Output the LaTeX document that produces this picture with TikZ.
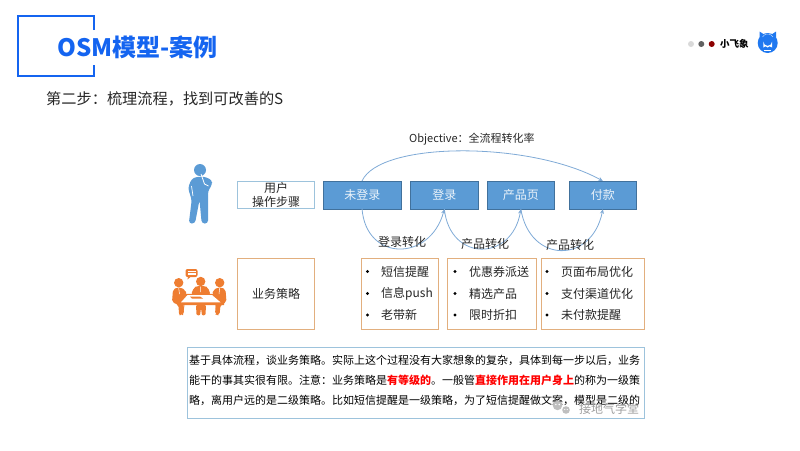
\documentclass[tikz,border=0pt]{standalone}
\usepackage{fontspec}
\setmainfont{Noto Sans CJK SC}
\usetikzlibrary{arrows.meta}
\definecolor{titleblue}{HTML}{1464F0}
\definecolor{stepblue}{HTML}{5B9BD5}
\definecolor{stepedge}{HTML}{41719C}
\definecolor{lightedge}{HTML}{9DC3DC}
\definecolor{peach}{HTML}{E2AF7E}
\definecolor{iconorange}{HTML}{EE7D31}
\definecolor{ink}{HTML}{262626}
\definecolor{curve}{HTML}{7FAAD6}
\definecolor{logoblue}{HTML}{1F78F0}
\tikzset{
  stepbox/.style={draw=stepedge,fill=stepblue,line width=.7pt,text=white!88!stepblue,font=\fontsize{12}{14}\selectfont,inner sep=0pt,anchor=north west},
  outlinebox/.style={fill=white,inner sep=0pt,anchor=north west,text=ink,font=\fontsize{12}{14.5}\selectfont,align=center},
  peachbox/.style={outlinebox,draw=peach,line width=1pt},
  flowarc/.style={draw=curve,line width=.8pt,-{Stealth[length=4.5pt,width=4pt]}},
  arclabel/.style={text=ink,font=\fontsize{12}{14}\selectfont,inner sep=0pt},
  bul/.style={circle,fill=black,inner sep=0pt,minimum size=3.2pt},
  item/.style={anchor=west,inner sep=0pt,text=ink,font=\fontsize{12}{14}\selectfont},
  para/.style={anchor=west,inner sep=0pt,text=black,font=\fontsize{11}{13}\selectfont},
}
\begin{document}
\begin{tikzpicture}[x=1pt,y=-1pt]
\useasboundingbox (0,0) rectangle (800,450);
% title frame
\draw[titleblue,line width=2pt] (94,30) -- (94,16) -- (18,16) -- (18,75.5) -- (94,75.5) -- (94,65);
\node[anchor=west,inner sep=0pt,text=titleblue,font=\fontsize{24}{28}\bfseries\selectfont] (title) at (57,47) {OSM模型-案例};
\node[anchor=west,inner sep=0pt,text=ink,font=\fontsize{15.2}{18}\selectfont] (sub) at (46,99) {第二步：梳理流程，找到可改善的S};
% brand
\fill[black!15] (691,44) circle (3);
\fill[black!62] (701.3,44) circle (3);
\fill[red!55!black] (711.7,44) circle (3);
\node[anchor=west,inner sep=0pt,font=\fontsize{9.5}{11}\bfseries\selectfont] (brand) at (720,43.5) {小飞象};
\fill[logoblue] (767.7,43) circle (10);
\fill[logoblue] (759.5,38) -- (759.5,31.5) -- (764,34.5) -- cycle;
\fill[logoblue] (776,38) -- (776,31.5) -- (771.5,34.5) -- cycle;
\draw[white!70!logoblue,line width=.5pt] (762.5,37) arc (210:330:6);
\fill[white] (763.3,47.5) -- (763.3,41.5) arc (180:0:4.4) -- (772.1,47.5) -- (769.5,46.3) -- (767.7,47.5) -- (765.5,46.3) -- cycle;
\fill[logoblue] (766,41.5) circle (.8) (769.4,41.5) circle (.8);
\draw[white,line width=.7pt] (764,50) -- (771,50);
% person
\begin{scope}[stepblue]
\fill (200,170) circle (6);
\fill[rounded corners=3pt] (191.5,179) -- (196,177) -- (204,176.5) -- (212,180) -- (212,185) -- (208,191) -- (208,223.5) -- (201.7,223.5) -- (199.5,200) -- (195,223.5) -- (188.8,223.5) -- (191.7,200) -- (188,188) -- cycle;
\draw[white,line width=.8pt] (201,174) -- (204.5,184) -- (208.5,186);
\draw[white,line width=.7pt] (191.5,186) -- (193,196);
\end{scope}
% meeting icon
\begin{scope}[iconorange]
\fill[rounded corners=2pt] (185.5,269) rectangle (197.5,277);
\fill (188,276.5) -- (187.5,279.5) -- (191,276.5) -- cycle;
\draw[white,line width=.5pt] (187.5,271.3) -- (195.5,271.3) (187.5,273) -- (195.5,273) (187.5,274.7) -- (195.5,274.7);
\fill (178.7,282.7) circle (4.7) (200.7,281.5) circle (4.7) (219.7,282.7) circle (4.7);
% left sitter
\fill[rounded corners=2pt] (172,302) -- (173,289.5) -- (177,287.5) -- (181,287.5) -- (185,290) -- (187,294) -- (183,301) -- (184,314) -- (181,315) -- (179,315) -- (178.5,305) -- cycle;
% right sitter
\fill[rounded corners=2pt] (226.5,302) -- (225.5,289.5) -- (222,287.5) -- (217.5,287.5) -- (213.5,290) -- (212,294) -- (216,301) -- (215,314) -- (217,315) -- (219.5,315) -- (220.5,305) -- cycle;
% middle sitter
\fill[rounded corners=2pt] (191,294.5) -- (194,287.5) -- (197,286) -- (205,286) -- (208,287.5) -- (210.5,294.5) -- cycle;
\draw[white,line width=.5pt] (178.7,288) -- (179.5,294) (219.7,288) -- (219,294) (200.7,286.5) -- (200.7,292);
% table
\fill (186,293.8) -- (213.5,293.8) -- (224,303) -- (224,305) -- (177.5,305) -- (177.5,303) -- cycle;
\fill[white] (187.5,295) -- (212,295) -- (220.5,302.3) -- (181,302.3) -- cycle;
\fill (190,296.5) -- (200,296.5) -- (203,298.5) -- (192,298.5) -- cycle;
\draw[line width=1pt] (184,305) -- (182.5,315) (216,305) -- (217.5,315);
\fill[rounded corners=1pt] (196,305) -- (206,305) -- (205.5,315) -- (202,315.5) -- (201,308) -- (200,315.5) -- (196.5,315) -- cycle;
\end{scope}
% step row
\node[outlinebox,draw=lightedge,line width=1pt,minimum width=77pt,minimum height=27pt,font=\fontsize{12}{13.5}\selectfont] (user) at (237,181) {用户\\操作步骤};
\node[stepbox,minimum width=78pt,minimum height=27.5pt] (s1) at (323,181) {未登录};
\node[stepbox,minimum width=68pt,minimum height=27.5pt] (s2) at (410,181) {登录};
\node[stepbox,minimum width=67pt,minimum height=27.5pt] (s3) at (487,181) {产品页};
\node[stepbox,minimum width=67pt,minimum height=27.5pt] (s4) at (569,181) {付款};
% curves
\coordinate (o1) at (362,181);
\coordinate (l1) at (362,208.5);
\draw[flowarc] (o1) .. controls (380,141) and (530,141) .. (s4.north);
\draw[flowarc] (l1) .. controls (366,262) and (430,262) .. (s2.south);
\draw[flowarc] (s2.south) .. controls (450,262) and (512,262) .. (s3.south);
\draw[flowarc] (s3.south) .. controls (530,264) and (592,264) .. (s4.south);
\node[anchor=west,inner sep=0pt,text=ink,font=\fontsize{11}{13}\selectfont] (obj) at (409,139) {Objective：全流程转化率};
\node[arclabel] (a1) at (402,242) {登录转化};
\node[arclabel] (a2) at (485,244) {产品转化};
\node[arclabel] (a3) at (570,245) {产品转化};
% strategy row
\node[peachbox,minimum width=77pt,minimum height=71pt] (biz) at (237,258) {业务策略};
\node[peachbox,minimum width=77pt,minimum height=71pt] (b1) at (361,258) {};
\node[peachbox,minimum width=89pt,minimum height=71pt] (b2) at (447,258) {};
\node[peachbox,minimum width=103pt,minimum height=71pt] (b3) at (541,258) {};
\foreach \x/\tx/\a/\b/\c in {367.5/381/短信提醒/信息push/老带新,455/469/优惠券派送/精选产品/限时折扣,547/561/页面布局优化/支付渠道优化/未付款提醒}{
  \node[bul] at (\x,271.5) {}; \node[item] at (\tx,271.5) {\a};
  \node[bul] at (\x,293.5) {}; \node[item] at (\tx,293.5) {\b};
  \node[bul] at (\x,315) {}; \node[item] at (\tx,315) {\c};
}
% paragraph
\node[outlinebox,draw=lightedge,line width=1pt,minimum width=457pt,minimum height=70.5pt] (para) at (187,347) {};
\node[para] (p1) at (189,360.5) {基于具体流程，谈业务策略。实际上这个过程没有大家想象的复杂，具体到每一步以后，业务};
\node[para] (p2) at (189,380.5) {能干的事其实很有限。注意：业务策略是\textcolor{red}{\bfseries 有等级的}。一般管\textcolor{red}{\bfseries 直接作用在用户身上}的称为一级策};
\node[para] (p3) at (189,400) {略，离用户远的是二级策略。比如短信提醒是一级策略，为了短信提醒做文案，模型是二级的};
% watermark
\node[anchor=west,inner sep=0pt,text=black!38,font=\fontsize{12}{15}\selectfont] (wm) at (579,408.5) {接地气学堂};
\fill[black!25] (557.5,405.5) circle (4.7) (566,410) circle (3.8);
\fill[white] (555.8,404.5) circle (.8) (559.2,404.5) circle (.8) (564.8,409.5) circle (.6) (567.2,409.5) circle (.6);
\end{tikzpicture}
\end{document}
